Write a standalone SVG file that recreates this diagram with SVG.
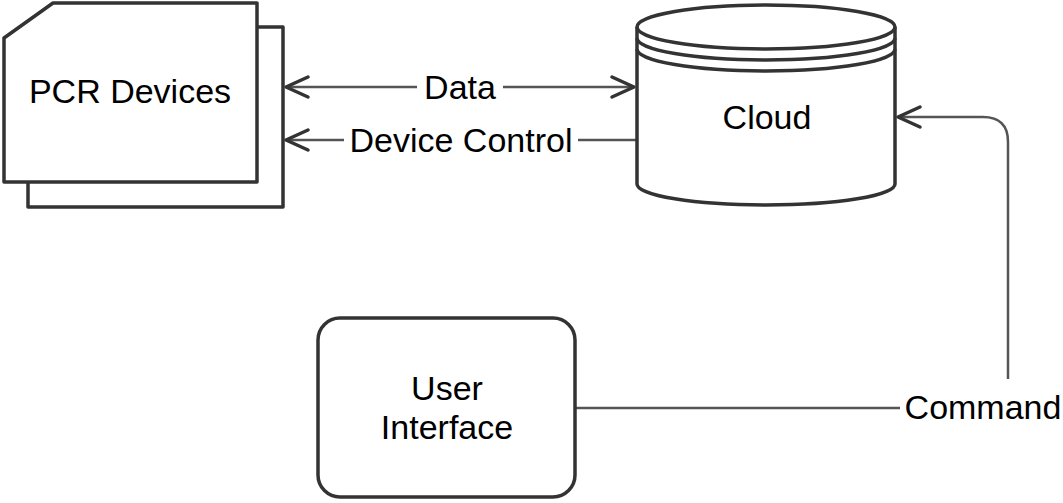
<svg xmlns="http://www.w3.org/2000/svg" width="1063" height="503" viewBox="0 0 1063 503">
<style>
.shape{fill:#fff;stroke:#333;stroke-width:3.5;stroke-linejoin:round}
.conn{fill:none;stroke:#555;stroke-width:2.5}
.lbl{font-family:"Liberation Sans",Arial,sans-serif;font-size:34px;fill:#000;text-anchor:middle}
.bg{fill:#fff}
</style>
<defs>
<marker id="arr" markerUnits="userSpaceOnUse" markerWidth="30" markerHeight="30" viewBox="-26 -13 30 26" refX="0" refY="0" orient="auto-start-reverse">
<path d="M-22,-10 L0,0 L-22,10" fill="none" stroke="#333" stroke-width="3.5" stroke-linecap="round" stroke-linejoin="round"/>
</marker>
</defs>
<rect width="1063" height="503" fill="#fff"/>
<g id="connectors">
<line class="conn" x1="286" y1="87" x2="634" y2="87" marker-start="url(#arr)" marker-end="url(#arr)"/>
<rect class="bg" x="417" y="70" width="86" height="34"/>
<text class="lbl" x="460" y="99">Data</text>
<line class="conn" x1="637" y1="140" x2="286" y2="140" marker-end="url(#arr)"/>
<rect class="bg" x="344" y="122" width="234" height="36"/>
<text class="lbl" x="461" y="152">Device Control</text>
<path class="conn" d="M575,408 H1008 V142 Q1008,117 983,117 H898" marker-end="url(#arr)"/>
<rect class="bg" x="900" y="379" width="163" height="48"/>
<text class="lbl" x="983" y="419">Command</text>
</g>
<g id="pcr-devices">
<rect class="shape" x="28" y="27" width="255" height="180"/>
<polygon class="shape" points="4,38 53,3 257,3 257,182 4,182"/>
<text class="lbl" x="130" y="103">PCR Devices</text>
</g>
<g id="cloud">
<path class="shape" d="M637,27 A129,22 0 0 1 895,27 V184 A129,21 0 0 1 637,184 Z"/>
<path class="shape" d="M637,27 A129,22 0 0 0 895,27 M637,38 A129,22 0 0 0 895,38 M637,49 A129,22 0 0 0 895,49" style="fill:none"/>
<text class="lbl" x="767" y="129">Cloud</text>
</g>
<g id="user-interface">
<rect class="shape" x="318" y="318" width="257" height="179" rx="22" ry="22"/>
<text class="lbl" x="447" y="400">User</text>
<text class="lbl" x="447" y="439">Interface</text>
</g>
</svg>
